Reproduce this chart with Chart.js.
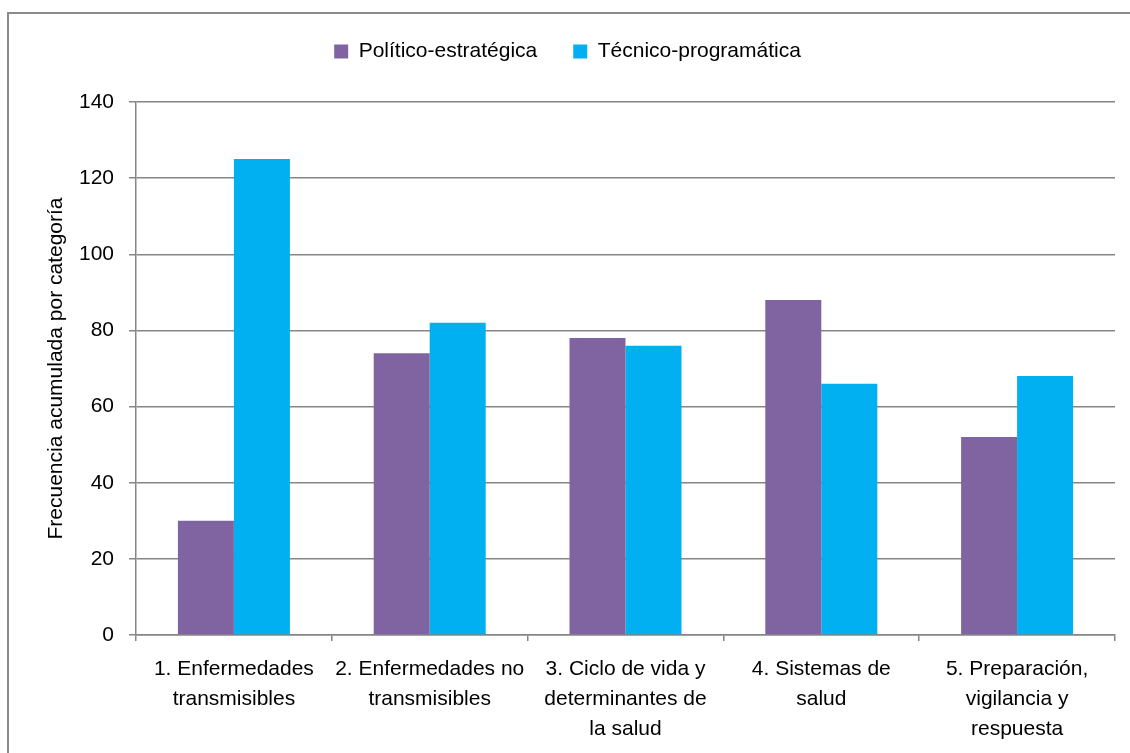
<!DOCTYPE html>
<html>
<head>
<meta charset="utf-8">
<script src="https://cdn.jsdelivr.net/npm/chart.js@4/dist/chart.umd.min.js"></script>
<style>
  html, body { margin: 0; padding: 0; background: #ffffff; overflow: hidden; }
  #wrap { position: relative; width: 1130px; height: 753px; }
</style>
</head>
<body>
<div id="wrap"><canvas id="c" width="1130" height="753"></canvas></div>
<script>
const categories = [
  ["1. Enfermedades", "transmisibles"],
  ["2. Enfermedades no", "transmisibles"],
  ["3. Ciclo de vida y", "determinantes de", "la salud"],
  ["4. Sistemas de", "salud"],
  ["5. Preparación,", "vigilancia y", "respuesta"]
];
const seriesNames = ["Político-estratégica", "Técnico-programática"];
const politicoValues = [30, 74, 78, 88, 52];
const tecnicoValues = [125, 82, 76, 66, 68];
const yTicks = [0, 20, 40, 60, 80, 100, 120, 140];
const yTitle = "Frecuencia acumulada por categoría";

const FONT = "'Liberation Sans', Arial, sans-serif";
const GRID = '#868686';

const frame = {
  id: 'frame',
  beforeDraw(chart) {
    const ctx = chart.ctx;
    ctx.save();
    ctx.strokeStyle = '#8a8a8a';
    ctx.lineWidth = 2;
    ctx.strokeRect(8, 13, 1200, 800);
    ctx.restore();
  }
};
const legendHeight = {
  id: 'legendHeight',
  beforeInit(chart) {
    if (!chart.legend) return;
    const fit = chart.legend.fit;
    chart.legend.fit = function () { fit.call(this); this.height = 97; };
  }
};

new Chart(document.getElementById('c'), {
  type: 'bar',
  data: {
    labels: categories,
    datasets: [
      { label: seriesNames[0], data: politicoValues, backgroundColor: '#8064A2',
        categoryPercentage: 0.572, barPercentage: 1.0 },
      { label: seriesNames[1], data: tecnicoValues, backgroundColor: '#00B0F0',
        categoryPercentage: 0.572, barPercentage: 1.0 }
    ]
  },
  options: {
    responsive: false,
    maintainAspectRatio: false,
    animation: false,
    devicePixelRatio: 1,
    layout: { padding: { top: 5, left: 20, right: 15, bottom: 0 } },
    plugins: {
      legend: {
        position: 'top',
        labels: {
          boxWidth: 14, boxHeight: 14, padding: 36,
          color: '#000', font: { family: FONT, size: 21 }
        }
      },
      tooltip: { enabled: false }
    },
    scales: {
      x: {
        afterFit(s) { s.height = 118; },
        grid: { display: true, offset: true, drawOnChartArea: false, drawTicks: true,
                tickLength: 6, color: GRID, lineWidth: 1.5 },
        border: { display: true, color: GRID, width: 1.5 },
        ticks: { color: '#000', padding: 13, maxRotation: 0, autoSkip: false,
                 font: { family: FONT, size: 21, lineHeight: 1.43 } }
      },
      y: {
        min: 0, max: 140,
        afterFit(s) { s.width = 116; },
        afterBuildTicks(s) { s.ticks = yTicks.map(v => ({ value: v })); },
        grid: { color: GRID, lineWidth: 1.5, drawTicks: true, tickLength: 7 },
        border: { display: true, color: GRID, width: 1.5 },
        ticks: { color: '#000', padding: 15, font: { family: FONT, size: 21 } },
        title: { display: true, text: yTitle, color: '#000',
                 font: { family: FONT, size: 21 }, padding: { top: 24, bottom: 0 } }
      }
    }
  },
  plugins: [frame, legendHeight]
});
</script>
</body>
</html>
